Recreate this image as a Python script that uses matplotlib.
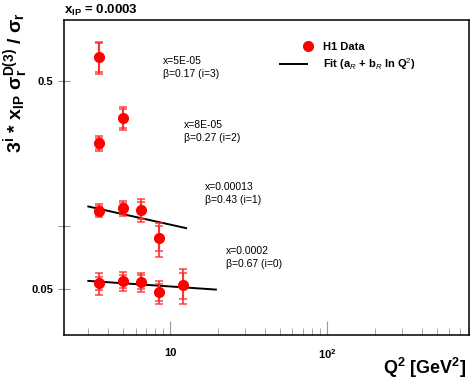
import matplotlib
matplotlib.use("Agg")
import matplotlib.pyplot as plt
import numpy as np
from matplotlib.legend_handler import HandlerLine2D

plt.rcParams['font.family'] = ['Liberation Sans', 'DejaVu Sans']
plt.rcParams['mathtext.fontset'] = 'custom'
plt.rcParams['mathtext.rm'] = 'Liberation Sans'
plt.rcParams['mathtext.it'] = 'Liberation Sans:italic'
plt.rcParams['mathtext.bf'] = 'Liberation Sans:bold'

# H1 data, one set per x bin (i = 0..3), Q^2 in GeV^2
q2_i0 = [3.5, 5.0, 6.5, 8.5, 12.0]
val_i0 = [0.0532, 0.0545, 0.0540, 0.0484, 0.0521]
tot_i0 = [0.0064, 0.0055, 0.0057, 0.0062, 0.0099]
stat_i0 = [0.0040, 0.0040, 0.0040, 0.0045, 0.0075]

q2_i1 = [3.5, 5.0, 6.5, 8.5]
val_i1 = [0.119, 0.1222, 0.1195, 0.0877]
tot_i1 = [0.0085, 0.0100, 0.0150, 0.0165]
stat_i1 = [0.0060, 0.0075, 0.0110, 0.0120]

q2_i2 = [3.5, 5.0]
val_i2 = [0.2508, 0.331]
tot_i2 = [0.020, 0.042]
stat_i2 = [0.015, 0.036]

q2_i3 = [3.5]
val_i3 = [0.654]
tot_i3 = [0.117]
stat_i3 = [0.105]

# fit lines (a_R + b_R ln Q^2), end points
fit_q2_i0 = [3.0, 19.5]
fit_val_i0 = [0.0546, 0.0496]
fit_q2_i1 = [3.0, 12.6]
fit_val_i1 = [0.1244, 0.0979]

bin_labels = ["x=5E-05\n\u03b2=0.17 (i=3)",
              "x=8E-05\n\u03b2=0.27 (i=2)",
              "x=0.00013\n\u03b2=0.43 (i=1)",
              "x=0.0002\n\u03b2=0.67 (i=0)"]
label_pos = [(163, 56), (184, 120), (205, 182), (226, 246)]

fig = plt.figure(figsize=(4.7, 3.8), dpi=100)
ax = fig.add_axes([64/470, 1-335/380, 405/470, 315/380])
ax.set_xscale('log')
ax.set_yscale('log')

errcol = '#ff2a2a'
for q2, val, tot, stat in [(q2_i0, val_i0, tot_i0, stat_i0),
                           (q2_i1, val_i1, tot_i1, stat_i1),
                           (q2_i2, val_i2, tot_i2, stat_i2),
                           (q2_i3, val_i3, tot_i3, stat_i3)]:
    ax.errorbar(q2, val, yerr=tot, fmt='none', ecolor=errcol, elinewidth=1.5,
                capsize=3, capthick=1.2, alpha=0.8, zorder=2)
    ax.errorbar(q2, val, yerr=stat, fmt='none', ecolor=errcol, elinewidth=1.5,
                capsize=3, capthick=1.2, alpha=0.8, zorder=2)
    pts, = ax.plot(q2, val, 'o', color='#ff0000', ms=7, zorder=3)

fit, = ax.plot(fit_q2_i0, fit_val_i0, color='black', lw=1.4, zorder=1)
ax.plot(fit_q2_i1, fit_val_i1, color='black', lw=1.4, zorder=1)

ax.set_xlim(2.1, 800)
ax.set_ylim(0.030, 0.98)

ax.set_yticks([0.05, 0.1, 0.5])
ax.set_yticklabels(['0.05', '', '0.5'])
ax.yaxis.set_minor_locator(matplotlib.ticker.NullLocator())
ax.set_xticks([10, 100])
ax.set_xticklabels(['10', '10$^{\\mathbf{2}}$'])
ax.xaxis.set_minor_locator(matplotlib.ticker.LogLocator(subs=np.arange(2, 10)))
ax.xaxis.set_minor_formatter(matplotlib.ticker.NullFormatter())

ax.tick_params(which='major', axis='x', direction='in', length=10, color='#999999',
               labelsize=8, pad=9)
ax.tick_params(which='minor', axis='x', direction='in', length=5, color='#999999')
ax.tick_params(axis='y', direction='inout', length=8, color='#999999', labelsize=8, pad=4)
for lab in ax.get_xticklabels() + ax.get_yticklabels():
    lab.set_fontweight('bold')
for sp in ax.spines.values():
    sp.set_linewidth(1.1)

for txt, (px, py) in zip(bin_labels, label_pos):
    fig.text(px/470, 1-py/380, txt, fontsize=7.5, ha='left', va='top', linespacing=1.35)

leg = ax.legend([pts, fit], ['H1 Data', 'Fit (a$_R$ + b$_R$ ln Q$^2$)'],
                loc='upper left', bbox_to_anchor=(274/470, 1-36/380),
                bbox_transform=fig.transFigure, frameon=False, borderpad=0,
                handlelength=2.5, handletextpad=1.4, labelspacing=0.45,
                prop={'size': 8, 'weight': 'bold'},
                handler_map={pts: HandlerLine2D(numpoints=1, xpad=2.6)})

fig.text(64/470, 1-13.5/380, 'x$_{\\mathbf{IP}}$ = 0.0003', fontsize=9.5,
         fontweight='bold', ha='left', va='baseline')
fig.text(16/470, 1-83/380,
         '3$^{\\mathbf{i}}$ * x$_{\\mathbf{IP}}$ $\\mathbf{\\sigma_r^{D(3)}}$ / $\\mathbf{\\sigma_r}$',
         fontsize=14, fontweight='bold', rotation=90, ha='center', va='center')
fig.text(466/470, 1-374/380, 'Q$^{\\mathbf{2}}$ [GeV$^{\\mathbf{2}}$]', fontsize=13,
         fontweight='bold', ha='right', va='baseline')

fig.savefig('out.png', dpi=100)
